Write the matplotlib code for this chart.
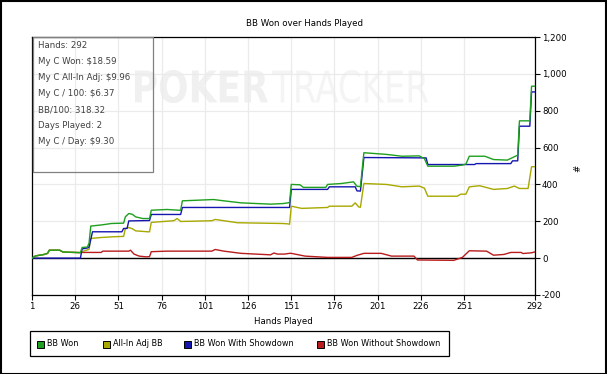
import numpy as np
import matplotlib
matplotlib.use("Agg")
import matplotlib.pyplot as plt
from matplotlib.patches import Rectangle, PathPatch
from matplotlib.textpath import TextPath
from matplotlib.font_manager import FontProperties
from matplotlib.transforms import Affine2D

# ---- data ----
green_h = [1, 3, 8, 10, 11, 17, 19, 29, 30, 33, 34, 35, 41, 47, 54, 55, 57, 59, 61, 65, 69, 70, 79, 86, 87, 88,
           106, 112, 122, 139, 146, 149, 150, 151, 156, 158, 171, 172, 180, 187, 189, 191, 193, 206, 215, 225,
           228, 230, 245, 250, 252, 254, 263, 268, 276, 280, 282, 283, 289, 290, 292]
green_v = [0, 12, 20, 26, 43, 43, 33, 30, 58, 60, 81, 174, 180, 188, 190, 224, 242, 238, 224, 215, 215, 260, 264,
           260, 260, 311, 318, 311, 300, 293, 296, 300, 302, 400, 398, 384, 384, 400, 405, 414, 390, 388, 572,
           563, 553, 555, 540, 499, 499, 505, 510, 553, 553, 535, 532, 550, 559, 745, 745, 933, 933]

yellow_h = [1, 3, 8, 10, 11, 17, 19, 29, 30, 34, 35, 41, 48, 54, 55, 57, 59, 61, 68, 69, 70, 83, 85, 87, 105, 107,
            120, 146, 149, 150, 151, 157, 172, 173, 186, 188, 190, 191, 193, 206, 215, 225, 228, 230, 247, 249,
            252, 254, 260, 268, 276, 280, 283, 288, 290, 292]
yellow_v = [0, 12, 20, 26, 43, 43, 33, 30, 35, 48, 107, 112, 116, 118, 161, 166, 160, 148, 143, 143, 194, 203, 215,
            199, 203, 210, 192, 188, 186, 184, 282, 270, 275, 282, 282, 300, 278, 276, 405, 400, 387, 391, 380,
            336, 336, 347, 347, 387, 393, 373, 378, 391, 378, 378, 496, 496]

blue_h = [1, 29, 30, 33, 34, 36, 53, 54, 56, 57, 69, 70, 87, 88, 150, 151, 172, 173, 188, 189, 191, 193, 229, 230,
          257, 258, 278, 279, 282, 283, 289, 290, 292]
blue_v = [0, 0, 50, 55, 60, 143, 143, 161, 161, 202, 204, 237, 237, 275, 275, 373, 373, 387, 387, 365, 364, 546,
          544, 508, 508, 513, 513, 528, 528, 716, 716, 902, 902]

red_h = [1, 3, 8, 10, 11, 17, 19, 29, 30, 41, 42, 57, 58, 60, 63, 67, 69, 70, 79, 105, 107, 112, 122, 139, 141,
         143, 147, 150, 151, 159, 172, 186, 189, 193, 203, 209, 222, 224, 245, 250, 254, 264, 268, 274, 278, 284,
         285, 290, 292]
red_v = [0, 12, 20, 26, 43, 43, 33, 30, 31, 31, 38, 38, 43, 22, 11, 7, 8, 35, 38, 38, 47, 38, 26, 18, 28,
         22, 22, 26, 26, 11, 4, 4, 15, 26, 26, 11, 11, -10, -12, 4, 40, 38, 16, 20, 31, 31,
         25, 29, 34]

series_names = ["BB Won", "All-In Adj BB", "BB Won With Showdown", "BB Won Without Showdown"]
series_colors = ["#1f9f1f", "#a8a800", "#1515b0", "#b81c1c"]

x_ticks = [1, 26, 51, 76, 101, 126, 151, 176, 201, 226, 251, 292]
y_ticks = [-200, 0, 200, 400, 600, 800, 1000, 1200]

stats = ["Hands: 292", "My C Won: $18.59", "My C All-In Adj: $9.96", "My C / 100: $6.37",
         "BB/100: 318.32", "Days Played: 2", "My C / Day: $9.30"]

W, H = 607, 374
fs = 6.2

fig = plt.figure(figsize=(W / 100, H / 100), dpi=100)
fig.patch.set_facecolor("white")

def fx(x):
    return x / W

def fy(y):
    return 1 - y / H

ax = fig.add_axes([fx(32), fy(295), fx(535) - fx(32), fy(37) - fy(295)])
ax.set_xlim(1, 292)
ax.set_ylim(-200, 1200)

# watermark
wm_tr = Affine2D().scale(1 / W, 1 / H) + fig.transFigure
for word, weight, col, box in [("POKER", "bold", "#f0f0f0", (135, 268)),
                               ("TRACKER", "normal", "#f4f4f4", (272, 428))]:
    tp = TextPath((0, 0), word, size=1, prop=FontProperties(family="DejaVu Sans", weight=weight))
    ext = tp.get_extents()
    a = Affine2D().translate(-ext.x0, -ext.y0).scale((box[1] - box[0]) / ext.width, 33 / ext.height)
    a = a.translate(box[0], H - 103)
    path = a.transform_path(tp)
    ax.add_patch(PathPatch(path, transform=wm_tr, facecolor=col, edgecolor="none", zorder=0.3))

# grid
for xt in x_ticks:
    ax.axvline(xt, color="#ebebeb", lw=0.9, zorder=0.5)
for yt in y_ticks:
    ax.axhline(yt, color="#ebebeb", lw=0.9, zorder=0.5)
ax.axhline(0, color="black", lw=1.0, zorder=1)

ax.plot(red_h, red_v, color=series_colors[3], lw=1.0, zorder=2)
ax.plot(yellow_h, yellow_v, color=series_colors[1], lw=1.0, zorder=3)
ax.plot(blue_h, blue_v, color=series_colors[2], lw=1.0, zorder=4)
ax.plot(green_h, green_v, color=series_colors[0], lw=1.0, zorder=5)

ax.set_xticks(x_ticks)
ax.set_xticklabels([str(t) for t in x_ticks], fontsize=fs)
ax.set_yticks(y_ticks)
ax.set_yticklabels(["{:,}".format(t) for t in y_ticks], fontsize=fs)
ax.yaxis.tick_right()
ax.tick_params(direction="out", length=3.5, width=0.8, pad=1.5, colors="black")
ax.set_xlabel("Hands Played", fontsize=fs, labelpad=4)
for s in ax.spines.values():
    s.set_linewidth(0.9)

# right-hand axis label
fig.text(fx(578), fy(168), "#", fontsize=fs, rotation=90, ha="center", va="center")

# stats box
fig.add_artist(Rectangle((fx(33), fy(172)), fx(153) - fx(33), fy(37) - fy(172), transform=fig.transFigure,
                         facecolor="none", edgecolor="#808080", lw=0.9, zorder=6))
for i, line in enumerate(stats):
    fig.text(fx(38), fy(46 + 16 * i), line, fontsize=fs, color="#404040", va="center", ha="left", zorder=7)

# title
fig.text(fx(305), fy(24), "BB Won over Hands Played", fontsize=fs, ha="center", va="center")

# legend
fig.add_artist(Rectangle((fx(30), fy(356)), fx(449) - fx(30), fy(331) - fy(356), transform=fig.transFigure,
                         facecolor="white", edgecolor="black", lw=0.9))
leg_x = [37, 103, 184, 317]
for name, col, lx in zip(series_names, series_colors, leg_x):
    fig.add_artist(Rectangle((fx(lx), fy(348)), fx(7), 7 / H, transform=fig.transFigure,
                             facecolor=col, edgecolor="black", lw=0.7))
    fig.text(fx(lx + 10), fy(344), name, fontsize=5.9, ha="left", va="center")

# outer border
fig.add_artist(Rectangle((0.5 / W, 0.5 / H), 1 - 1.5 / W, 1 - 1.5 / H, transform=fig.transFigure,
                         facecolor="none", edgecolor="black", lw=1.5))

fig.savefig("out.png", dpi=100)
